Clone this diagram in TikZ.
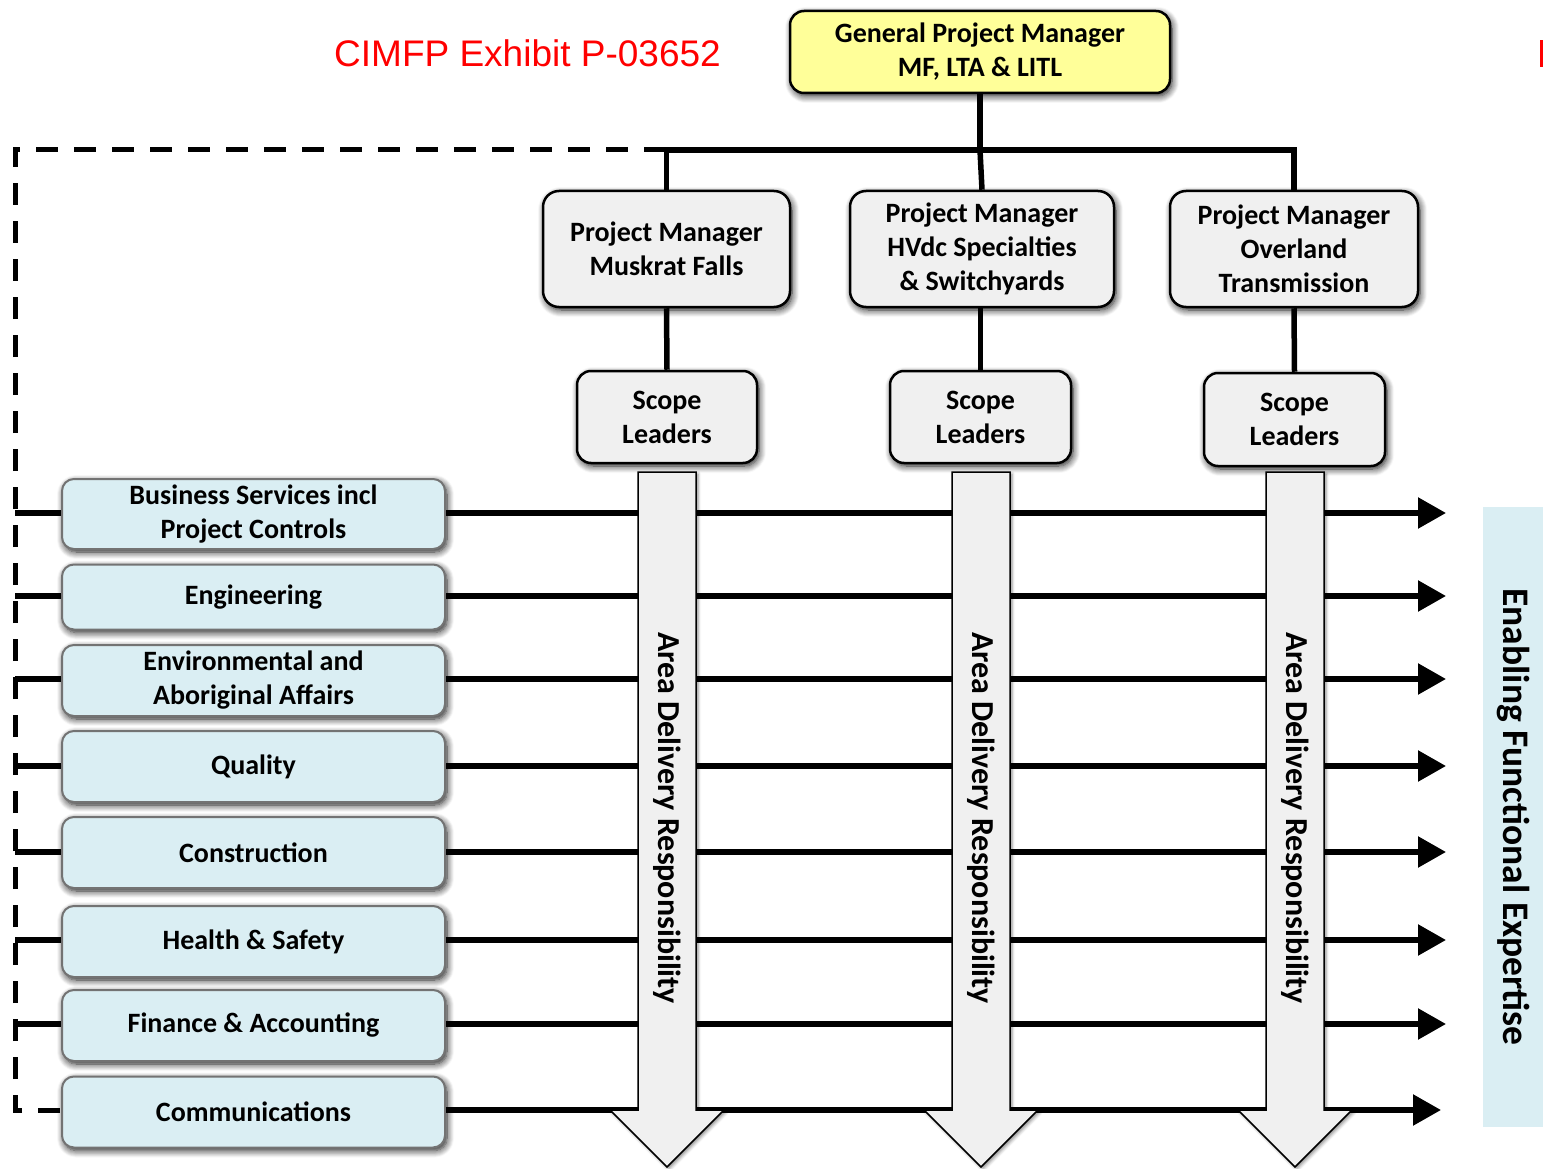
\documentclass[tikz,border=0pt]{standalone}
\usepackage{fontspec}
\setmainfont{Carlito}
\newfontfamily\titlefont{Liberation Sans}
\usetikzlibrary{arrows.meta,shadows.blur}

\definecolor{gpmyellow}{HTML}{FFFF99}
\definecolor{boxgray}{HTML}{F0F0F0}
\definecolor{funcblue}{HTML}{DAEEF3}
\definecolor{exhibitred}{HTML}{FF0000}

\begin{document}
\begin{tikzpicture}[x=1pt,y=-1pt,
  glow/.style={blur shadow={shadow xshift=2pt,shadow yshift=-3pt,
      shadow blur radius=7pt,shadow blur steps=8,shadow opacity=90}},
  boxtext/.style={font=\fontsize{28}{34}\selectfont\bfseries},
  orgbox/.style={draw=black,line width=2.5pt,rounded corners=16pt,
      fill=boxgray,inner sep=0pt,align=center,boxtext,glow},
  gpmbox/.style={orgbox,fill=gpmyellow,rounded corners=14pt},
  funcbox/.style={draw=black!55,line width=2pt,rounded corners=12pt,
      fill=funcblue,inner sep=0pt,align=center,boxtext,glow,
      minimum width=383pt},
  tree/.style={line width=5.5pt},
  dashline/.style={line width=5pt,dash pattern=on 22pt off 16pt},
  hline/.style={line width=5.5pt},
  harrow/.style={hline,-{Triangle[length=28pt,width=30pt]}},
  downarrow/.style={draw=black,line width=1.5pt,fill=boxgray,
      blur shadow={shadow xshift=2pt,shadow yshift=-2pt,
      shadow blur radius=3pt,shadow opacity=45}},
]
\useasboundingbox (0,0) rectangle (1543,1169);

% exhibit heading
\node[text=exhibitred,font=\titlefont\fontsize{37}{40}\selectfont,anchor=center]
  (exhibit) at (527.5,53) {CIMFP Exhibit P-03652};
\fill[exhibitred] (1540,40) rectangle (1543,67);

% side label
\node[fill=funcblue,minimum width=620pt,minimum height=60pt,inner sep=0pt,
  rotate=-90,font=\fontsize{37.5}{41}\selectfont\bfseries]
  (enabling) at (1513,817) {Enabling Functional Expertise};

% management boxes
\node[gpmbox,minimum width=380pt,minimum height=82pt] (gpm) at (980,52)
  {General Project Manager\\MF, LTA \& LITL};
\node[orgbox,minimum width=247pt,minimum height=116pt] (pmA) at (666.5,249)
  {Project Manager\\Muskrat Falls};
\node[orgbox,minimum width=264pt,minimum height=116pt] (pmB) at (982,249)
  {Project Manager\\HVdc Specialties\\\& Switchyards};
\node[orgbox,minimum width=248pt,minimum height=116pt] (pmC) at (1294,249)
  {Project Manager\\Overland\\Transmission};
\node[orgbox,rounded corners=14pt,minimum width=180pt,minimum height=92pt]
  (slA) at (667,417) {Scope\\Leaders};
\node[orgbox,rounded corners=14pt,minimum width=181pt,minimum height=92pt]
  (slB) at (980.5,417) {Scope\\Leaders};
\node[orgbox,rounded corners=14pt,minimum width=181pt,minimum height=93pt]
  (slC) at (1294.5,419.5) {Scope\\Leaders};

% reporting tree
\coordinate (bus) at (980,150);
\draw[dashline] (60,1110) -- (15,1110) -- (15,150) -- (975,150);
\draw[tree] (gpm.south) -- (bus);
\draw[tree] (pmA.north) |- (bus) -| (pmC.north);
\draw[tree] (bus) -- (pmB.north);
\draw[tree] (pmA.south) -- (slA.north);
\draw[tree] (pmB.south -| slB.north) -- (slB.north);
\draw[tree] (pmC.south) -- (slC.north);

% functional groups
\node[funcbox,minimum height=70pt] (f1) at (253.5,514) {Business Services incl\\Project Controls};
\node[funcbox,minimum height=65pt] (f2) at (253.5,597) {Engineering};
\node[funcbox,minimum height=71pt] (f3) at (253.5,680.5) {Environmental and\\Aboriginal Affairs};
\node[funcbox,minimum height=71pt] (f4) at (253.5,766.5) {Quality};
\node[funcbox,minimum height=71pt] (f5) at (253.5,852.5) {Construction};
\node[funcbox,minimum height=71pt] (f6) at (253.5,941.5) {Health \& Safety};
\node[funcbox,minimum height=71pt] (f7) at (253.5,1025.5) {Finance \& Accounting};
\node[funcbox,minimum height=71pt] (f8) at (253.5,1112) {Communications};

% functional lines across the areas
\foreach \i/\y in {1/513,2/596,3/679,4/766,5/852,6/940,7/1024} {
  \coordinate (L\i) at (15,\y);
  \coordinate (R\i) at (1446,\y);
  \draw[hline] (L\i) -- (f\i.west |- L\i);
  \draw[harrow] (f\i.east |- L\i) -- (R\i);
}
\coordinate (R8) at (1441,1110);
\draw[harrow] (f8.east |- R8) -- (R8);

% area delivery arrows
\foreach \n/\cx in {A/667,B/981,C/1295} {
  \draw[downarrow] (\cx-29,472) -- (\cx+29,472) -- (\cx+29,1110)
    -- (\cx+57,1110) -- (\cx,1167) -- (\cx-57,1110) -- (\cx-29,1110) -- cycle;
  \node[rotate=-90,font=\fontsize{32}{36}\selectfont\bfseries,inner sep=0pt]
    (area\n) at (\cx,818) {Area Delivery Responsibility};
}
\end{tikzpicture}
\end{document}
